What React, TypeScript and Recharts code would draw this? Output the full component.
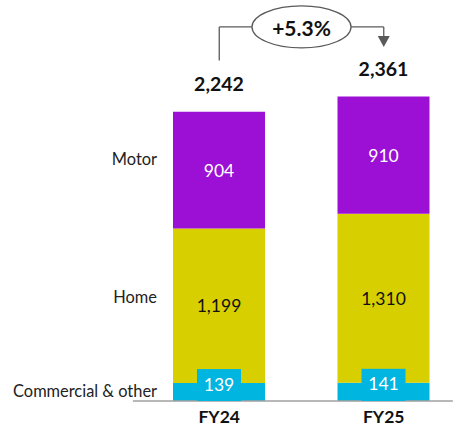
import React from 'react';
import { ComposedChart, Bar, XAxis, YAxis, LabelList, ReferenceLine, ReferenceDot } from 'recharts';

const categories = ['FY24', 'FY25'];
const commercial = [139, 141];
const home = [1199, 1310];
const motor = [904, 910];
const totals = [2242, 2361];
const growthLabel = '+5.3%';
const seriesNames = { commercial: 'Commercial & other', home: 'Home', motor: 'Motor' };

// annotation levels (value units)
const Y_MAX = 3000;
const BRACKET_Y = 2900;
const LEFT_START = 2640;
const ARROW_BASE = 2830;

const data = categories.map((c, i) => ({
  idx: i,
  cat: c,
  commercial: commercial[i],
  home: home[i],
  motor: motor[i],
  total: totals[i],
}));

const FONT = 'Lato, "Noto Sans", sans-serif';
const C_MOTOR = '#9b10d4';
const C_HOME = '#d8cf00';
const C_COMM = '#00b5e0';
const GREY = '#5a5a5a';

const fmt = (v: number) => Number(v).toLocaleString('en-US');

const geo = (p: any) => {
  const vb = p.viewBox || {};
  return {
    x: Number(p.x ?? vb.x),
    y: Number(p.y ?? vb.y),
    w: Number(p.width ?? vb.width),
    h: Number(p.height ?? vb.height),
  };
};

const valueLabel = (color: string) => (p: any) => {
  const { x, y, w, h } = geo(p);
  return (
    <text x={x + w / 2} y={y + h / 2} textAnchor="middle" dominantBaseline="central"
      fontFamily={FONT} fontSize={17.5} fill={color}>{fmt(p.value)}</text>
  );
};

const commLabel = (p: any) => {
  const { x, y, w, h } = geo(p);
  const cx = x + w / 2;
  return (
    <g>
      <rect x={cx - 22} y={y - 14} width={44} height={14 + h} fill={C_COMM} />
      <text x={cx} y={y + 1} textAnchor="middle" dominantBaseline="central"
        fontFamily={FONT} fontSize={17.5} fill="#fff">{fmt(p.value)}</text>
    </g>
  );
};

const nameLabel = (name: string, dy: number) => (p: any) => {
  if (p.index !== 0) return null;
  const { x, y, h } = geo(p);
  return (
    <text x={x - 16} y={y + h / 2 + dy} textAnchor="end" dominantBaseline="central"
      fontFamily={FONT} fontSize={16.4} fill="#222">{name}</text>
  );
};

const totalLabel = (p: any) => {
  const { x, y, w } = geo(p);
  return (
    <text x={x + w / 2} y={y - 28} textAnchor="middle" dominantBaseline="central"
      fontFamily={FONT} fontSize={19.5} fontWeight={700} fill="#111">{fmt(p.value)}</text>
  );
};

const EllipseShape = (p: any) => (
  <g>
    <ellipse cx={p.cx} cy={p.cy} rx={49.5} ry={21} fill="#fff" stroke={GREY} strokeWidth={1.3} />
    <text x={p.cx} y={p.cy + 1} textAnchor="middle" dominantBaseline="central"
      fontFamily={FONT} fontSize={21} fontWeight={700} fill="#111">{growthLabel}</text>
  </g>
);

const ArrowShape = (p: any) => (
  <path d={`M${p.cx - 6},${p.cy} L${p.cx + 6},${p.cy} L${p.cx},${p.cy + 11} Z`} fill={GREY} />
);

export default function App() {
  return (
    <div style={{ position: 'absolute', left: 0, top: 0, width: 457, height: 430, background: '#fff' }}>
      <ComposedChart width={457} height={430} data={data}
        margin={{ top: 14, right: -9, bottom: 0, left: 137 }}>
        <XAxis dataKey="idx" type="number" domain={[-0.5, 1.5]} ticks={[0, 1]} interval={0}
          tickFormatter={(v: number) => categories[v]} axisLine={false} tickLine={false}
          height={29} tickMargin={4}
          tick={{ fontFamily: FONT, fontSize: 17.5, fontWeight: 700, fill: '#111' }} />
        <YAxis hide domain={[0, Y_MAX]} />
        <Bar dataKey="commercial" stackId="a" fill={C_COMM} barSize={92} isAnimationActive={false}>
          <LabelList dataKey="commercial" content={commLabel} />
          <LabelList dataKey="commercial" content={nameLabel(seriesNames.commercial, -2)} />
        </Bar>
        <Bar dataKey="home" stackId="a" fill={C_HOME} barSize={92} isAnimationActive={false}>
          <LabelList dataKey="home" content={valueLabel('#111')} />
          <LabelList dataKey="home" content={nameLabel(seriesNames.home, -9)} />
        </Bar>
        <Bar dataKey="motor" stackId="a" fill={C_MOTOR} barSize={92} isAnimationActive={false}>
          <LabelList dataKey="motor" content={valueLabel('#fff')} />
          <LabelList dataKey="motor" content={nameLabel(seriesNames.motor, -12)} />
          <LabelList dataKey="total" content={totalLabel} />
        </Bar>
        <ReferenceLine segment={[{ x: -0.525, y: 0 }, { x: 1.42, y: 0 }]} stroke="#a0a0a0" strokeWidth={1.5} ifOverflow="visible" />
        <ReferenceLine segment={[{ x: 0, y: LEFT_START }, { x: 0, y: BRACKET_Y }]} stroke={GREY} strokeWidth={1.3} ifOverflow="visible" />
        <ReferenceLine segment={[{ x: 0, y: BRACKET_Y }, { x: 0.21, y: BRACKET_Y }]} stroke={GREY} strokeWidth={1.3} ifOverflow="visible" />
        <ReferenceLine segment={[{ x: 0.79, y: BRACKET_Y }, { x: 1, y: BRACKET_Y }]} stroke={GREY} strokeWidth={1.3} ifOverflow="visible" />
        <ReferenceLine segment={[{ x: 1, y: BRACKET_Y }, { x: 1, y: ARROW_BASE }]} stroke={GREY} strokeWidth={1.3} ifOverflow="visible" />
        <ReferenceDot x={1} y={ARROW_BASE} r={1} shape={ArrowShape} ifOverflow="visible" />
        <ReferenceDot x={0.5} y={BRACKET_Y} r={1} shape={EllipseShape} ifOverflow="visible" />
      </ComposedChart>
    </div>
  );
}
